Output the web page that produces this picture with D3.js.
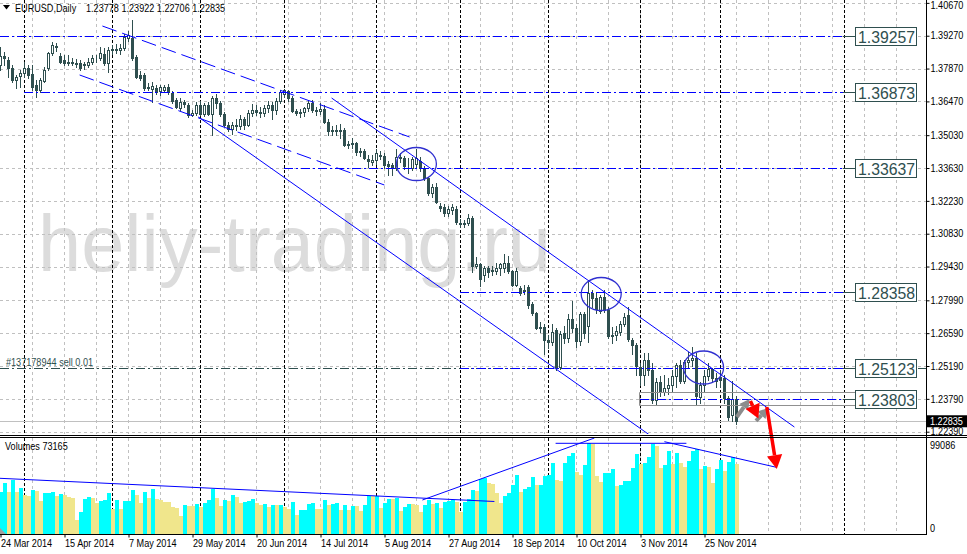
<!DOCTYPE html>
<html><head><meta charset="utf-8">
<script src="https://cdn.jsdelivr.net/npm/d3@7"></script>
<style>
body{margin:0;background:#fff}
svg{display:block}
text{font-family:"Liberation Sans",Arial,sans-serif}
</style>
</head><body>
<svg id="c" width="967" height="554"></svg>
<script>
// ---------------- DATA ----------------
const symbolTitle = "EURUSD,Daily";
const lastQuote = "1.23778 1.23922 1.22706 1.22835";
const firstDay = "2014-03-24", lastDay = "2014-12-05";
const open = [1.3800,1.3840,1.3823,1.3788,1.3738,1.3755,1.3766,1.3788,1.3762,1.3717,
1.3696,1.3735,1.3788,1.3852,1.3883,1.3840,1.3823,1.3812,1.3816,1.3812,
1.3809,1.3800,1.3802,1.3816,1.3830,1.3830,1.3848,1.3809,1.3866,1.3870,
1.3866,1.3873,1.3916,1.3916,1.3837,1.3759,1.3759,1.3710,1.3700,1.3705,
1.3691,1.3696,1.3710,1.3681,1.3653,1.3617,1.3643,1.3632,1.3589,1.3596,
1.3631,1.3595,1.3630,1.3595,1.3660,1.3642,1.3592,1.3546,1.3530,1.3546,
1.3540,1.3572,1.3546,1.3596,1.3610,1.3600,1.3596,1.3617,1.3631,1.3610,
1.3650,1.3680,1.3690,1.3660,1.3605,1.3598,1.3600,1.3617,1.3640,1.3610,
1.3605,1.3615,1.3560,1.3520,1.3525,1.3522,1.3527,1.3463,1.3465,1.3468,
1.3430,1.3437,1.3400,1.3390,1.3398,1.3420,1.3415,1.3378,1.3375,1.3362,
1.3410,1.3405,1.3370,1.3365,1.3380,1.3395,1.3362,1.3320,1.3255,1.3280,
1.3200,1.3195,1.3170,1.3185,1.3190,1.3130,1.3125,1.3130,1.3150,1.2944,
1.2952,1.2905,1.2935,1.2922,1.2922,1.2935,1.2935,1.2960,1.2925,1.2865,
1.2850,1.2845,1.2855,1.2785,1.2744,1.2686,1.2685,1.2630,1.2620,1.2672,
1.2515,1.2660,1.2640,1.2720,1.2680,1.2625,1.2740,1.2690,1.2829,1.2808,
1.2755,1.2815,1.2758,1.2645,1.2650,1.2666,1.2700,1.2735,1.2630,1.2610,
1.2515,1.2480,1.2545,1.2502,1.2374,1.2450,1.2410,1.2425,1.2440,1.2475,
1.2525,1.2455,1.2535,1.2545,1.2552,1.2385,1.2440,1.2475,1.2505,1.2470,
1.2473,1.2466,1.2381,1.2310,1.23778];
const high = [1.3877,1.3858,1.3837,1.3800,1.3760,1.3780,1.3816,1.3802,1.3802,1.3738,
1.3745,1.3795,1.3859,1.3901,1.3897,1.3852,1.3845,1.3845,1.3830,1.3827,
1.3823,1.3816,1.3830,1.3845,1.3845,1.3880,1.3873,1.3880,1.3887,1.3890,
1.3890,1.3935,1.3945,1.3993,1.3845,1.3775,1.3770,1.3725,1.3731,1.3717,
1.3717,1.3717,1.3720,1.3690,1.3660,1.3660,1.3655,1.3640,1.3610,1.3645,
1.3650,1.3640,1.3645,1.3670,1.3677,1.3650,1.3600,1.3560,1.3560,1.3570,
1.3590,1.3580,1.3610,1.3635,1.3630,1.3625,1.3630,1.3650,1.3645,1.3660,
1.3695,1.3700,1.3695,1.3670,1.3615,1.3615,1.3625,1.3650,1.3652,1.3625,
1.3640,1.3630,1.3570,1.3540,1.3545,1.3550,1.3535,1.3480,1.3490,1.3475,
1.3450,1.3445,1.3420,1.3420,1.3445,1.3435,1.3425,1.3395,1.3385,1.3445,
1.3425,1.3415,1.3405,1.3410,1.3445,1.3410,1.3370,1.3325,1.3295,1.3300,
1.3215,1.3210,1.3200,1.3210,1.3200,1.3145,1.3140,1.3165,1.3160,1.2985,
1.2960,1.2945,1.2945,1.2945,1.2960,1.2960,1.2995,1.2990,1.2930,1.2935,
1.2860,1.2865,1.2865,1.2790,1.2750,1.2705,1.2700,1.2650,1.2700,1.2680,
1.2670,1.2690,1.2740,1.2795,1.2700,1.2750,1.2750,1.2887,1.2845,1.2830,
1.2820,1.2845,1.2770,1.2685,1.2690,1.2710,1.2745,1.2770,1.2640,1.2615,
1.2530,1.2575,1.2575,1.2530,1.2470,1.2475,1.2480,1.2470,1.2500,1.2530,
1.2545,1.2545,1.2580,1.2600,1.2575,1.2450,1.2500,1.2530,1.2510,1.2490,
1.2500,1.2480,1.2390,1.2456,1.23922];
const low = [1.3780,1.3800,1.3752,1.3731,1.3705,1.3710,1.3752,1.3745,1.3696,1.3667,
1.3688,1.3731,1.3780,1.3845,1.3860,1.3809,1.3802,1.3802,1.3800,1.3795,
1.3780,1.3785,1.3795,1.3805,1.3815,1.3825,1.3802,1.3774,1.3850,1.3855,
1.3850,1.3865,1.3905,1.3825,1.3745,1.3740,1.3696,1.3695,1.3646,1.3680,
1.3675,1.3685,1.3680,1.3640,1.3620,1.3610,1.3625,1.3582,1.3585,1.3590,
1.3590,1.3585,1.3590,1.3503,1.3620,1.3585,1.3540,1.3520,1.3510,1.3525,
1.3530,1.3530,1.3540,1.3585,1.3590,1.3580,1.3585,1.3600,1.3570,1.3595,
1.3640,1.3665,1.3650,1.3600,1.3590,1.3580,1.3585,1.3605,1.3600,1.3590,
1.3595,1.3555,1.3505,1.3505,1.3505,1.3490,1.3455,1.3450,1.3450,1.3420,
1.3415,1.3400,1.3367,1.3375,1.3380,1.3400,1.3365,1.3335,1.3332,1.3355,
1.3390,1.3360,1.3340,1.3355,1.3365,1.3350,1.3310,1.3250,1.3240,1.3215,
1.3180,1.3160,1.3160,1.3165,1.3125,1.3110,1.3110,1.3120,1.2920,1.2935,
1.2860,1.2880,1.2900,1.2905,1.2910,1.2905,1.2920,1.2915,1.2860,1.2860,
1.2820,1.2825,1.2765,1.2735,1.2675,1.2665,1.2571,1.2595,1.2610,1.2500,
1.2505,1.2615,1.2620,1.2665,1.2600,1.2610,1.2640,1.2622,1.2770,1.2745,
1.2745,1.2750,1.2640,1.2615,1.2630,1.2650,1.2690,1.2625,1.2570,1.2480,
1.2440,1.2440,1.2480,1.2360,1.2358,1.2390,1.2395,1.2400,1.2410,1.2430,
1.2445,1.2445,1.2515,1.2520,1.2358,1.2360,1.2410,1.2460,1.2450,1.2430,
1.2430,1.2360,1.2290,1.2283,1.22706];
const close = [1.3840,1.3830,1.3788,1.3738,1.3752,1.3766,1.3788,1.3759,1.3710,1.3696,
1.3738,1.3781,1.3852,1.3887,1.3880,1.3816,1.3809,1.3816,1.3812,1.3806,
1.3788,1.3805,1.3816,1.3830,1.3834,1.3852,1.3809,1.3866,1.3870,1.3866,
1.3876,1.3923,1.3930,1.3830,1.3752,1.3748,1.3703,1.3705,1.3714,1.3688,
1.3710,1.3710,1.3686,1.3649,1.3625,1.3646,1.3635,1.3589,1.3596,1.3631,
1.3595,1.3630,1.3595,1.3660,1.3642,1.3592,1.3546,1.3530,1.3546,1.3540,
1.3572,1.3546,1.3596,1.3610,1.3603,1.3596,1.3617,1.3631,1.3610,1.3650,
1.3688,1.3695,1.3662,1.3605,1.3598,1.3602,1.3617,1.3642,1.3612,1.3605,
1.3615,1.3560,1.3520,1.3525,1.3522,1.3527,1.3463,1.3465,1.3468,1.3430,
1.3437,1.3405,1.3395,1.3398,1.3425,1.3415,1.3375,1.3373,1.3362,1.3410,
1.3405,1.3370,1.3372,1.3400,1.3405,1.3362,1.3320,1.3255,1.3283,1.3220,
1.3192,1.3170,1.3190,1.3195,1.3132,1.3125,1.3130,1.3152,1.2944,1.2952,
1.2892,1.2935,1.2920,1.2927,1.2935,1.2955,1.2960,1.2925,1.2865,1.2925,
1.2830,1.2840,1.2778,1.2744,1.2680,1.2680,1.2630,1.2620,1.2665,1.2515,
1.2655,1.2640,1.2720,1.2680,1.2625,1.2740,1.2660,1.2829,1.2808,1.2760,
1.2815,1.2758,1.2645,1.2650,1.2670,1.2700,1.2730,1.2635,1.2610,1.2520,
1.2480,1.2545,1.2502,1.2374,1.2450,1.2410,1.2425,1.2440,1.2475,1.2525,
1.2455,1.2535,1.2545,1.2552,1.2390,1.2440,1.2475,1.2505,1.2470,1.2455,
1.2459,1.2381,1.2303,1.2378,1.22835];
const volume = [46100,55900,46100,58800,45700,49700,42500,41400,47900,46500,
35900,44600,45000,45400,41700,43200,42500,40700,38800,15200,
24300,38100,39900,38800,33400,36300,37000,44600,26900,37000,
27200,35900,36300,47900,42500,33400,45700,39600,49000,37800,
37000,35200,34500,29000,28000,19600,31600,30900,30100,32700,
29800,33400,37000,49400,39200,30500,37000,36300,42500,40300,
34100,34500,36300,37800,33400,31600,32700,29400,31600,31200,
31900,29800,27200,34800,20300,26100,26200,33000,33800,27600,
27200,37000,31200,32700,34100,26100,31600,26100,30500,30100,
25000,31600,41700,41400,41700,28300,34100,38100,37800,39600,
25000,29400,32700,32300,31900,24300,31600,37400,33000,33800,
28700,34800,35900,36700,35200,24000,35200,37800,47900,46800,
59500,61300,55900,54100,45000,34100,41400,45000,53400,64300,
45700,48600,51200,61700,53000,53400,63500,63900,77700,58800,
58100,77000,85300,88600,67900,64300,75100,99086,98000,63200,
57000,66800,66900,70400,52600,53400,57700,58100,71500,87100,
76600,77000,83500,98000,95800,72200,74800,90400,76200,88600,
77000,73300,79900,90800,92600,71100,74400,73000,55900,70800,
80600,69000,78800,83500,76200];
const volumeTitle = "Volumes 73165";
const priceTicks = [1.40670,1.39270,1.37870,1.36470,1.35030,1.33630,1.32230,1.30830,1.29430,1.27990,1.26590,1.25190,1.23790,1.22390];
const volumeTicks = [99086, 0];
const bid = 1.22835;
const dateTickLabels = ["24 Mar 2014","15 Apr 2014","7 May 2014","29 May 2014","20 Jun 2014","14 Jul 2014","5 Aug 2014","27 Aug 2014","18 Sep 2014","10 Oct 2014","3 Nov 2014","25 Nov 2014"];
const dateTickDays = ["2014-03-24","2014-04-15","2014-05-07","2014-05-29","2014-06-20","2014-07-14","2014-08-05","2014-08-27","2014-09-18","2014-10-10","2014-11-03","2014-11-25"];
const separatorDays = ["2014-04-01","2014-05-01","2014-06-02","2014-07-01","2014-08-01","2014-09-01","2014-10-01","2014-11-03","2014-12-01","2015-01-01"];
const levelPrices = [1.39257,1.36873,1.33637,1.28358,1.25123,1.23803];
const levelStart = ["2014-03-24","2014-04-01","2014-07-01","2014-09-01","2014-09-01","2014-11-03"];
const orderText = "#137178944 sell 0.01", orderPrice = 1.2510;
const boxTop = 1.24070, boxBottom = 1.23507, boxStart = "2014-11-03";
const trendSolid = [[82.9,1.36614,198.6,1.22590],[49.6,1.35805,162.4,1.22250]];
const trendDashed = [[25.6,1.39683,102.4,1.34952],[19.9,1.37595,96.1,1.32906]];
const ellipses = [[104.1,1.33801],[150.3,1.28260],[175.9,1.25127]];
const volTrend = [[0,60650,123.6,35390],[105.6,37020,148.6,104500],[138.9,98760,171.6,98760],[166.1,100500,194.1,72630]];
const greyArrows = [[184.2,1.23017,187.4,1.23784],[189.0,1.22847,192.1,1.23401]];
const redArrows = [[187.6,1.23700,189.6,1.22950],[191.7,1.23443,194.2,1.20800]];
const watermark = "heliy-trading.ru";

// ---------------- SETUP ----------------
const svg = d3.select("#c");
const AX = 926;          // right axis x
const PT = 0, PB = 434;  // price pane
const VT = 438, VB = 534; // volume pane
const parse = d3.utcParse("%Y-%m-%d");
const days = d3.utcDay.range(parse(firstDay), d3.utcDay.offset(parse(lastDay),1)).filter(d => d.getUTCDay()%6 !== 0);
const lastIdx = days.length - 1;
function idxOf(s){
  const d = parse(s);
  if (d <= days[lastIdx]) return d3.bisectLeft(days, d);
  return lastIdx + Math.round((d - days[lastIdx]) / 864e5);
}
const x = d3.scaleLinear().domain([0,1]).range([0,4]);
const y = d3.scaleLinear().domain([1.22292,1.40792]).range([PB,PT]);
const yv = d3.scaleLinear().domain([0,99086]).range([VB,443]);
const nBars = open.length;
const NARROW = 0.91;
function fit(sel){ sel.each(function(){ const w=this.getComputedTextLength(); d3.select(this).attr("textLength", w*NARROW).attr("lengthAdjust","spacingAndGlyphs"); }); }

svg.append("rect").attr("width",967).attr("height",554).attr("fill","#fff");
const defs = svg.append("defs");
defs.append("clipPath").attr("id","cp").append("rect").attr("x",0).attr("y",PT).attr("width",AX).attr("height",PB-PT);
defs.append("clipPath").attr("id","cv").append("rect").attr("x",0).attr("y",VT).attr("width",AX).attr("height",VB-VT);
defs.append("clipPath").attr("id","call").append("rect").attr("x",0).attr("y",0).attr("width",AX).attr("height",VB);

const gp = svg.append("g").attr("clip-path","url(#cp)");
const gv = svg.append("g").attr("clip-path","url(#cv)");

// watermark
gp.append("text").attr("x",38).attr("y",271).attr("font-size",80).attr("fill","#dcdcdc")
  .attr("textLength",513).attr("lengthAdjust","spacingAndGlyphs").text(watermark);

// grid
const gridIdx = d3.range(8, 232, 8);
[gp, gv].forEach((g,k) => {
  g.selectAll(".vg").data(gridIdx).join("line")
    .attr("x1",d=>x(d)+0.5).attr("x2",d=>x(d)+0.5)
    .attr("y1",k?VT:PT).attr("y2",k?VB:PB)
    .attr("stroke","#c0c0c0").attr("stroke-dasharray","3,3");
});
gp.selectAll(".hg").data(priceTicks).join("line")
  .attr("x1",0).attr("x2",AX).attr("y1",d=>Math.round(y(d))+0.5).attr("y2",d=>Math.round(y(d))+0.5)
  .attr("stroke","#c0c0c0").attr("stroke-dasharray","3,3");
[gp, gv].forEach((g,k) => {
  g.selectAll(".sep").data(separatorDays).join("line")
    .attr("x1",d=>x(idxOf(d))+0.5).attr("x2",d=>x(idxOf(d))+0.5)
    .attr("y1",k?VT:PT).attr("y2",k?VB:PB)
    .attr("stroke","#000").attr("stroke-dasharray","3,2");
});

gp.append("line").attr("x1",0).attr("x2",AX).attr("y1",Math.round(y(bid))+0.5).attr("y2",Math.round(y(bid))+0.5).attr("stroke","#c0c0c0");

gp.append("line").attr("x1",0).attr("x2",AX).attr("y1",Math.round(y(orderPrice))+0.5).attr("y2",Math.round(y(orderPrice))+0.5)
  .attr("stroke","#2f4f4f").attr("stroke-dasharray","9,3,2,3");
fit(gp.append("text").attr("x",6).attr("y",Math.round(y(orderPrice))-2).attr("font-size",10).attr("fill","#2f4f4f").text(orderText));

// candles
const cg = gp.append("g").attr("shape-rendering","crispEdges");
for (let i=0;i<nBars;i++){
  const px = Math.round(x(i));
  const col = "#2f4f4f";
  cg.append("line").attr("x1",px+0.5).attr("x2",px+0.5).attr("y1",Math.round(y(high[i]))).attr("y2",Math.round(y(low[i]))+1).attr("stroke",col);
  const yt = Math.round(y(Math.max(open[i],close[i]))), yb = Math.round(y(Math.min(open[i],close[i])));
  const bull = close[i] >= open[i];
  cg.append("rect").attr("x",px-0.5).attr("y",yt+0.5).attr("width",2).attr("height",Math.max(0,yb-yt))
    .attr("fill", bull ? "#fff" : col).attr("stroke",col);
}

// volumes
const vg = gv.append("g").attr("shape-rendering","crispEdges");
vg.selectAll("rect").data(volume).join("rect")
  .attr("x",(d,i)=>Math.round(x(i))-1).attr("width",4)
  .attr("y",d=>Math.round(yv(d))).attr("height",d=>VB-Math.round(yv(d)))
  .attr("fill",(d,i)=> i>0 && d>volume[i-1] ? "#00ffff" : (i===0 ? "#00ffff" : "#f0e68c"));
gv.append("path").attr("d",`M0,${VB-6}L0,${VB}L6,${VB}Z`).attr("fill","#a0a0a0");

// ---------- objects ----------
const blue = "#0000ff";
levelPrices.forEach((p,k)=>{
  const yy = Math.round(y(p))+0.5;
  gp.append("line").attr("x1",x(idxOf(levelStart[k]))).attr("x2",844).attr("y1",yy).attr("y2",yy)
    .attr("stroke",blue).attr("stroke-dasharray","9,3,2,3");
});
{
  const x0 = x(idxOf(boxStart))-0.5, y0 = Math.round(y(boxTop))+0.5, y1 = Math.round(y(boxBottom))+0.5;
  gp.append("path").attr("d",`M856,${y0}H${x0}V${y1}H856`).attr("fill","none").attr("stroke","#909090");
}
gp.selectAll(".ts").data(trendSolid).join("line")
  .attr("x1",d=>x(d[0])).attr("y1",d=>y(d[1])).attr("x2",d=>x(d[2])).attr("y2",d=>y(d[3]))
  .attr("stroke",blue).attr("stroke-width",1);
gp.selectAll(".td").data(trendDashed).join("line")
  .attr("x1",d=>x(d[0])).attr("y1",d=>y(d[1])).attr("x2",d=>x(d[2])).attr("y2",d=>y(d[3]))
  .attr("stroke",blue).attr("stroke-width",1).attr("stroke-dasharray","15,6");
gp.selectAll(".el").data(ellipses).join("ellipse")
  .attr("cx",d=>x(d[0])).attr("cy",d=>y(d[1])).attr("rx",20).attr("ry",16.5)
  .attr("fill","none").attr("stroke","#3030d0").attr("stroke-width",1.3);
gv.selectAll(".vt").data(volTrend).join("line")
  .attr("x1",d=>x(d[0])).attr("y1",d=>yv(d[1])).attr("x2",d=>x(d[2])).attr("y2",d=>yv(d[3]))
  .attr("stroke",blue).attr("stroke-width",1);

const ga = svg.append("g").attr("clip-path","url(#call)");
function arrow(d, color, w, head){
  const x1=x(d[0]), y1=y(d[1]), x2=x(d[2]), y2=y(d[3]);
  const a = Math.atan2(y2-y1, x2-x1);
  const bx = x2 - head*Math.cos(a), by = y2 - head*Math.sin(a);
  const nx = -Math.sin(a), ny = Math.cos(a), hw = head*0.55;
  ga.append("line").attr("x1",x1).attr("y1",y1).attr("x2",bx).attr("y2",by).attr("stroke",color).attr("stroke-width",w);
  ga.append("path").attr("d",`M${x2},${y2}L${bx+nx*hw},${by+ny*hw}L${bx-nx*hw},${by-ny*hw}Z`).attr("fill",color);
}
greyArrows.forEach(d=>arrow(d,"#8c8c8c",4,10));
redArrows.forEach(d=>arrow(d,"#ff0000",3.5,14));

levelPrices.forEach(p=>{
  const yy = Math.round(y(p))+0.5;
  svg.append("line").attr("x1",843).attr("x2",856).attr("y1",yy).attr("y2",yy).attr("stroke","#2f4f4f");
  svg.append("rect").attr("x",855.5).attr("y",yy-9).attr("width",61).attr("height",18)
    .attr("fill","#fff").attr("stroke","#2f4f4f");
  svg.append("text").attr("x",858).attr("y",yy+6.5).attr("font-size",16).attr("fill","#2f4f4f")
    .attr("textLength",57).attr("lengthAdjust","spacingAndGlyphs").text(p.toFixed(5));
});

const fr = svg.append("g").attr("shape-rendering","crispEdges").attr("stroke","#000");
fr.append("line").attr("x1",0).attr("x2",967).attr("y1",435.5).attr("y2",435.5);
fr.append("line").attr("x1",0).attr("x2",967).attr("y1",437.5).attr("y2",437.5);
fr.append("line").attr("x1",0).attr("x2",AX+1).attr("y1",VB+0.5).attr("y2",VB+0.5);
fr.append("line").attr("x1",AX+0.5).attr("x2",AX+0.5).attr("y1",0).attr("y2",VB+1);

// right price axis
const ay = svg.append("g").attr("transform",`translate(${AX+0.5},0)`)
  .call(d3.axisRight(y).tickValues(priceTicks).tickSize(3).tickFormat(d3.format(".5f")));
ay.select(".domain").remove();
ay.selectAll("line").attr("stroke","#000");
ay.selectAll("text").attr("font-size",10).attr("fill","#000").attr("x",4).attr("font-family","Liberation Sans, Arial, sans-serif");
fit(ay.selectAll("text"));
ay.selectAll("text").filter((d,i)=>i===0).attr("dy","0.55em");

{
  const yy = y(bid);
  svg.append("rect").attr("x",927).attr("y",yy-6).attr("width",40).attr("height",12).attr("fill","#000");
  fit(svg.append("text").attr("x",930).attr("y",yy+4).attr("font-size",10).attr("fill","#fff").text(bid.toFixed(5)));
}
fit(svg.selectAll(".vl").data(volumeTicks).join("text")
  .attr("x",930).attr("y",(d,i)=> i===0 ? 449 : 532).attr("font-size",10).attr("fill","#000").text(d=>d));

const ax = svg.append("g").attr("transform",`translate(0.5,${VB+0.5})`)
  .call(d3.axisBottom(x).tickValues(dateTickDays.map(idxOf)).tickSize(3).tickFormat((d,i)=>dateTickLabels[i]));
ax.select(".domain").remove();
ax.selectAll("line").attr("stroke","#000");
ax.selectAll("text").attr("font-size",10).attr("fill","#000").attr("text-anchor","start").attr("x",0).attr("y",5).attr("dy","0.71em")
  .attr("font-family","Liberation Sans, Arial, sans-serif");
fit(ax.selectAll("text"));

svg.append("path").attr("d","M3,5H10L6.5,9.5Z").attr("fill","#000");
fit(svg.append("text").attr("x",15).attr("y",12).attr("font-size",10).attr("fill","#000").text(symbolTitle));
fit(svg.append("text").attr("x",86).attr("y",12).attr("font-size",10).attr("fill","#000").text(lastQuote));
fit(svg.append("text").attr("x",5).attr("y",450).attr("font-size",10).attr("fill","#000").text(volumeTitle));
</script>
</body></html>
